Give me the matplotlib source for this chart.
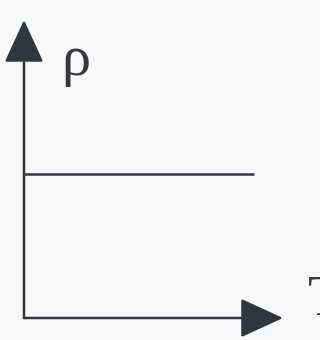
import matplotlib.pyplot as plt
from matplotlib import font_manager

# coordinates: 1 unit = 100 px, origin where the two axes meet
T = [0.0, 2.30]
rho = [1.44, 1.44]

ink = "#2e3640"
label_font = font_manager.FontProperties(
    fname=font_manager.findfont("Liberation Serif"), size=42)

fig = plt.figure(figsize=(3.2, 3.4), dpi=100)
fig.patch.set_facecolor("#f4f8fb")
ax = fig.add_axes([0, 0, 1, 1])
ax.set_facecolor("#f4f8fb")
ax.set_xlim(-0.24, 2.96)
ax.set_ylim(-0.22, 3.18)
ax.axis("off")

# axes with arrow heads
arrow = dict(arrowstyle="-|>,head_length=1.35,head_width=0.62", mutation_scale=20,
             color=ink, lw=1.8, shrinkA=0, shrinkB=0)
ax.annotate("", xy=(0, 2.98), xytext=(0, 0), arrowprops=arrow)
ax.annotate("", xy=(2.59, 0), xytext=(0, 0), arrowprops=arrow)

# constant density line
ax.plot(T, rho, color=ink, lw=1.8, solid_capstyle="butt")

ax.text(0.37, 2.43, "\u03c1", fontproperties=label_font, color="#333a44",
        va="baseline", ha="left")
ax.text(2.84, 0.03, "T", fontproperties=label_font, color="#333a44",
        va="baseline", ha="left")

plt.savefig("out.png", dpi=100, facecolor=fig.get_facecolor())
